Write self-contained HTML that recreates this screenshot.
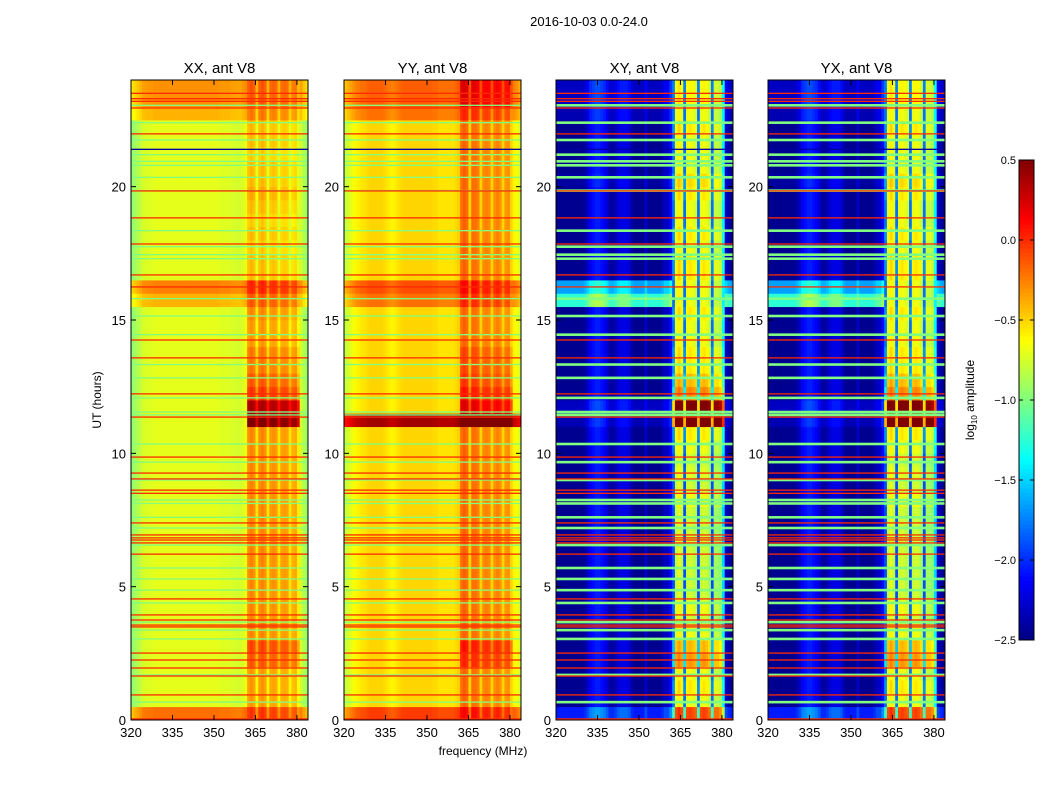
<!DOCTYPE html>
<html><head><meta charset="utf-8">
<style>
body{margin:0;background:#fff;}
svg{display:block;font-family:"Liberation Sans","DejaVu Sans",sans-serif;}
</style></head>
<body>
<svg id="fig" width="1050" height="800" viewBox="0 0 1050 800">
<rect width="1050" height="800" fill="#fff"/>
<text x="589" y="26" font-size="13" text-anchor="middle">2016-10-03 0.0-24.0</text>
<text x="483" y="755" font-size="12" text-anchor="middle">frequency (MHz)</text>
<text x="0" y="0" font-size="12" text-anchor="middle" transform="translate(101,400) rotate(-90)">UT (hours)</text>
<g id="panels"></g>
<g id="cbar"></g>
<text x="0" y="0" font-size="12" text-anchor="middle" transform="translate(974,400) rotate(-90)">log<tspan font-size="8" dy="3">10</tspan><tspan dy="-3"> amplitude</tspan></text>
</svg>
<script>
// ---- data ----
const freqStart = 320, freqStep = 1;           // MHz bins 320..383
const timeStep = 0.5;                          // hour rows 0..24
const panelTitles = ["XX, ant V8","YY, ant V8","XY, ant V8","YX, ant V8"];
const xTicks = [320,335,350,365,380];
const yTicks = [0,5,10,15,20];
const cbTicks = [0.5,0.0,-0.5,-1.0,-1.5,-2.0,-2.5];
const cbLabels = ["0.5","0.0","\u22120.5","\u22121.0","\u22121.5","\u22122.0","\u22122.5"];
const vmin = -2.5, vmax = 0.5;

const xxFreq = [-0.95,-0.9,-0.85,-0.8,
 -0.74,-0.73,-0.72,-0.72,-0.7,-0.7,-0.7,-0.7,-0.7,-0.7,-0.7,-0.7,-0.7,-0.7,-0.7,-0.7,-0.7,-0.7,-0.7,-0.7,-0.7,-0.7,-0.7,-0.7,-0.7,-0.7,-0.7,-0.7,-0.72,-0.72,-0.72,-0.72,-0.74,-0.74,-0.75,-0.75,
 -0.72,-0.68,
 -0.35,-0.3,-0.35,-0.6,-0.35,-0.3,-0.35,-0.6,-0.38,-0.35,-0.38,-0.6,-0.4,-0.38,-0.4,-0.6,-0.45,-0.42,-0.62,
 -0.75,-0.85,-0.92];
const yyFreq = [-0.8,-0.75,-0.7,-0.65,
 -0.6,-0.58,-0.55,-0.55,-0.52,-0.5,-0.5,-0.5,-0.5,-0.5,-0.52,-0.55,-0.58,-0.6,-0.58,-0.55,-0.52,-0.5,-0.5,-0.5,-0.5,-0.5,-0.5,-0.5,-0.5,-0.5,-0.5,-0.5,-0.52,-0.52,-0.55,-0.55,-0.55,-0.55,-0.55,-0.55,
 -0.52,-0.48,
 -0.2,-0.15,-0.2,-0.5,-0.2,-0.2,-0.25,-0.5,-0.28,-0.25,-0.28,-0.5,-0.3,-0.25,-0.3,-0.5,-0.32,-0.3,-0.5,
 -0.6,-0.65,-0.72];
const xyFreq = [-2.45,-2.45,-2.45,-2.45,-2.45,-2.45,-2.45,-2.45,-2.45,-2.45,-2.4,-2.3,
 -2.15,-2.1,-2.05,-2.05,-2.1,-2.15,-2.25,
 -2.4,-2.4,-2.35,
 -2.25,-2.2,-2.2,-2.2,-2.25,
 -2.4,-2.45,-2.45,-2.45,-2.45,-2.3,-2.45,-2.45,-2.45,-2.45,-2.45,-2.4,-2.3,-2.3,-2.1,-2.0,
 -0.9,-0.8,-0.9,-2.0,-0.9,-0.85,-0.9,-0.95,-2.0,-0.9,-0.85,-0.9,-1.0,-2.0,-1.0,-1.0,-1.1,-1.6,-2.3,-2.4,-2.45];

const xxRowAll = [0.5,0,0,0,0,0,0,0,0,0,0,0,0,0,0,0,0,0,0,0,0,0,0,0,0,0,0,0,0,0,0,0.3,0.45,0,0,0,0,0,0,0,0,0,0,0,0,0.3,0.4,0.4];
const xxRowRfi = [-0.2,0,0,0,0.2,0.25,0.05,0.05,0.05,0.05,0.05,0.05,0.05,0.05,0.05,0.05,0.05,0.05,0.05,0.05,0.05,0.05,0.85,0.7,0.3,0.2,0.1,0.1,0,0,0.05,-0.1,-0.1,-0.1,-0.1,-0.15,-0.1,-0.15,-0.1,-0.05,-0.1,-0.1,-0.15,-0.1,-0.1,-0.2,-0.2,-0.2];
const yyRowAll = [0.45,0,0,0,0,0,0,0,0,0,0,0,0,0,0,0,0,0,0,0,0,0,0.9,0,0,0,0,0,0,0,0,0.3,0.4,0,0,0,0,0,0,0,0,0,0,0,0,0.3,0.35,0.35];
const yyRowRfi = [-0.15,0,0,0,0.2,0.25,0,0,0,0,0,0,0,0,0,0,0,0,0,0,0,0,0.5,0.4,0.25,0.15,0.1,0.1,0,0,0,-0.1,-0.1,0,0,0,0,0,0,0,0,0,0,0,0,-0.1,0.05,0.05];
const xyRowAll = [0.4,0,0,0,0,0,0,0,0,0,0,0,0,0,0,0,0,0,0,0,0,0,0.1,0.15,0,0,0,0,0,0,0,1.2,0.8,0,0,0,0,0,0,0,0.05,0,0,0,0,0.1,0.15,0.15];
const xyRowRfi = [0.4,0.2,0.3,0.2,0.55,0.45,0.2,0.1,0.2,0.1,0.1,0.1,0.1,0.1,0.1,0.1,0.2,0.1,0.15,0.1,0.2,0.3,1.5,1.3,0.6,0.45,0.3,0.3,0.2,0.2,0.3,-1.0,-0.6,0.3,0.3,0.2,0.3,0.2,0.2,0.3,0.3,0.2,0.2,0.2,0.3,0.1,0.1,0.1];
const rfiLo = 362, rfiHi = 380;

const redLines = [23.5,23.3,23.2,22.95,21.98,19.84,18.83,17.85,16.69,16.24,14.25,13.58,12.23,11.36,9.86,9.26,9.04,8.62,8.5,7.39,6.94,6.83,6.75,6.64,6.22,4.54,3.94,3.75,3.56,3.49,2.51,2.25,1.95,1.65,0.94,0.04];
const greenLines = [23.05,22.4,21.75,21.2,20.95,20.8,20.35,19.85,18.35,17.75,17.45,17.3,15.8,15.15,14.45,13.33,12.83,12.08,11.55,11.44,10.35,9.67,9.0,8.25,8.12,7.6,7.2,6.56,5.7,5.29,4.87,4.39,3.67,3.37,3.04,1.69,0.67];
const blueLines = [21.4];
const lineVals = {red:0.0, green:-1.0, blue:-2.4};

const panels = [
 {x0:131, freq:xxFreq, all:xxRowAll, rfi:xxRowRfi, thick:1.3},
 {x0:344, freq:yyFreq, all:yyRowAll, rfi:yyRowRfi, thick:1.3},
 {x0:556, freq:xyFreq, all:xyRowAll, rfi:xyRowRfi, thick:2.6},
 {x0:768, freq:xyFreq, all:xyRowAll, rfi:xyRowRfi, thick:2.6}
];
const PW = 177, PT = 80, PB = 720, fMin = 320, fMax = 384, tMax = 24;

// ---- helpers ----
function jet(v){
  let t = (Math.max(vmin, Math.min(vmax, v)) - vmin)/(vmax - vmin);
  const c = x => Math.round(255*Math.max(0, Math.min(1, x)));
  return `rgb(${c(1.5-Math.abs(4*t-3))},${c(1.5-Math.abs(4*t-2))},${c(1.5-Math.abs(4*t-1))})`;
}
const NS = "http://www.w3.org/2000/svg";
function mk(tag, attrs, parent){
  const e = document.createElementNS(NS, tag);
  for (const k in attrs) e.setAttribute(k, attrs[k]);
  parent.appendChild(e); return e;
}
const yScale = h => PB - (h / tMax) * (PB - PT);

const root = document.getElementById("panels");
panels.forEach((p, pi) => {
  const xScale = f => p.x0 + (f - fMin) / (fMax - fMin) * PW;
  const g = mk("g", {}, root);
  
  
  const cells = mk("g", {}, g);
  
  
  for (let r = 0; r < p.all.length; r++) {
    const y1 = yScale((r+1)*timeStep), y0 = yScale(r*timeStep);
    for (let i = 0; i < p.freq.length; i++) {
      const f = freqStart + i*freqStep;
      const inRfi = f >= rfiLo && f <= rfiHi;
      const v = p.freq[i] + p.all[r] + (inRfi ? p.rfi[r] : 0);
      const x0 = xScale(f), x1 = xScale(f + freqStep);
      const c = mk("rect", {x:x0.toFixed(2), y:y1.toFixed(2), width:(x1-x0+0.4).toFixed(2), height:(y0-y1+0.4).toFixed(2), fill:jet(v)}, cells);
      
      
    }
  }
  const drawLines = (arr, kind, w) => arr.forEach(h => {
    const l = mk("rect", {x:p.x0, y:(yScale(h)-w/2).toFixed(2), width:PW, height:w, fill:jet(lineVals[kind])}, g);
    
    
  });
  drawLines(greenLines, "green", p.thick);
  drawLines(blueLines, "blue", 1.3);
  drawLines(redLines, "red", 1.3);
  const fr = mk("rect", {x:p.x0, y:PT, width:PW, height:PB-PT, fill:"none", stroke:"#000", "stroke-width":1}, g);
  
  
  const tt = mk("text", {x:p.x0+PW/2, y:PT-7, "font-size":15, "text-anchor":"middle"}, g);
  tt.textContent = panelTitles[pi];
  
  
  xTicks.forEach(f => {
    const x = xScale(f);
    mk("line", {x1:x, x2:x, y1:PB, y2:PB-5, stroke:"#000"}, g);
    mk("line", {x1:x, x2:x, y1:PT, y2:PT+5, stroke:"#000"}, g);
    const t = mk("text", {x:x, y:PB+17, "font-size":13, "text-anchor":"middle"}, g);
    t.textContent = f;
    
    
  });
  yTicks.forEach(h => {
    const y = yScale(h);
    mk("line", {x1:p.x0, x2:p.x0+5, y1:y, y2:y, stroke:"#000"}, g);
    mk("line", {x1:p.x0+PW, x2:p.x0+PW-5, y1:y, y2:y, stroke:"#000"}, g);
    const t = mk("text", {x:p.x0-5, y:y+5, "font-size":13, "text-anchor":"end"}, g);
    t.textContent = h;
    
    
  });
});

// colorbar
const cb = document.getElementById("cbar");
const CBX = 1019, CBW = 15, CBT = 160, CBB = 640;
const cbY = v => CBB - (v - vmin)/(vmax - vmin)*(CBB - CBT);
for (let k = 0; k < 120; k++) {
  const v0 = vmin + k*(vmax-vmin)/120, v1 = vmin + (k+1)*(vmax-vmin)/120;
  const s = mk("rect", {x:CBX, y:cbY(v1).toFixed(2), width:CBW, height:(cbY(v0)-cbY(v1)+0.5).toFixed(2), fill:jet((v0+v1)/2)}, cb);
  
  
}
mk("rect", {x:CBX, y:CBT, width:CBW, height:CBB-CBT, fill:"none", stroke:"#000"}, cb);
cbTicks.forEach((v, i) => {
  const y = cbY(v);
  mk("line", {x1:CBX, x2:CBX+4, y1:y, y2:y, stroke:"#000"}, cb);
  mk("line", {x1:CBX+CBW-4, x2:CBX+CBW, y1:y, y2:y, stroke:"#000"}, cb);
  const t = mk("text", {x:CBX-3, y:y+4, "font-size":11, "text-anchor":"end"}, cb);
  t.textContent = cbLabels[i];
  
  
});
</script>
</body></html>
